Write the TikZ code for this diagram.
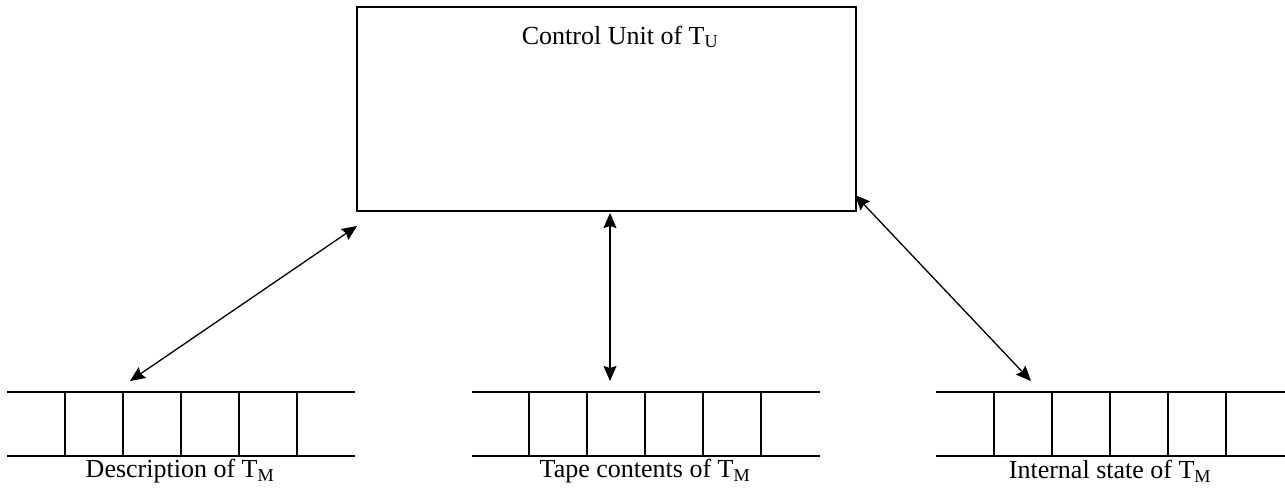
\documentclass[tikz,border=0pt]{standalone}
\usepackage{fontspec}
\setmainfont{Liberation Serif}
\usetikzlibrary{arrows.meta}
\begin{document}
\begin{tikzpicture}[x=1pt,y=-1pt,
  unitbox/.style={draw, line width=1.8pt, minimum width=499pt, minimum height=204pt, inner sep=0pt},
  tape/.style={minimum width=348pt, minimum height=64pt, inner sep=0pt},
  tapeline/.style={line width=1.5pt},
  caption/.style={font=\fontsize{26}{31}\selectfont, inner sep=0pt},
  link/.style={line width=1.3pt, {Stealth[length=15pt,width=13pt,inset=2pt]}-{Stealth[length=15pt,width=13pt,inset=2pt]}}]
\useasboundingbox (0,0) rectangle (1285,490);

% control unit of the universal machine
\node[unitbox] (cu) at (606.5,109) {};
\node[caption] (cutitle) at (620,37) {Control Unit of T\textsubscript{U}};

% three tapes
\node[tape] (t1) at (181,424) {};
\node[tape] (t2) at (646,424) {};
\node[tape] (t3) at (1110.5,424) {};
\foreach \t/\c in {t1/181, t2/645, t3/1110} {
  \draw[tapeline] (\t.north west) -- (\t.north east)
                  (\t.south west) -- (\t.south east);
  \foreach \k in {-2,...,2}
    \draw[tapeline] (\c+\k*58,392) -- (\c+\k*58,456);
}

% tape captions
\node[caption] (l1) at (180,471) {Description of T\textsubscript{M}};
\node[caption] (l2) at (645,471) {Tape contents of T\textsubscript{M}};
\node[caption] (l3) at (1110,471) {Internal state of T\textsubscript{M}};

% connector end points
\coordinate (a1) at (357,226);
\coordinate (b1) at (130,381);
\coordinate (a2) at (610,213);
\coordinate (b2) at (610,381);
\coordinate (a3) at (855,195);
\coordinate (b3) at (1031,381);

\draw[link] (a1) -- (b1);
\draw[link] (a2) -- (b2);
\draw[link] (a3) -- (b3);
\end{tikzpicture}
\end{document}
